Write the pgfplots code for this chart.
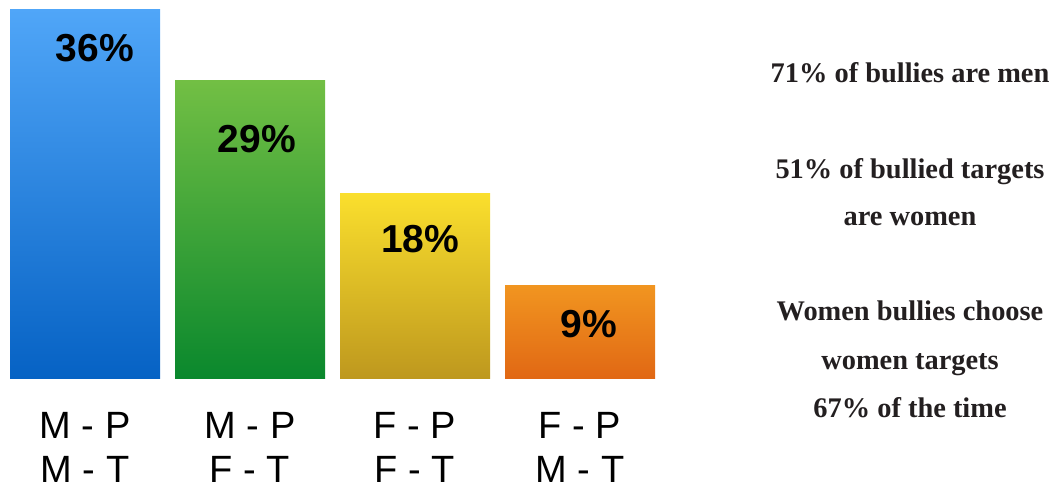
\documentclass[border=0pt]{standalone}
\usepackage{fontspec}
\setmainfont{Liberation Sans}
\newfontfamily\notefont{Liberation Serif}
\usepackage{pgfplots}
\pgfplotsset{compat=1.18}

\definecolor{blueTop}{RGB}{80,166,248}
\definecolor{blueBot}{RGB}{6,98,196}
\definecolor{greenTop}{RGB}{114,191,68}
\definecolor{greenBot}{RGB}{10,136,45}
\definecolor{yellowTop}{RGB}{250,223,45}
\definecolor{yellowBot}{RGB}{190,152,30}
\definecolor{orangeTop}{RGB}{241,149,32}
\definecolor{orangeBot}{RGB}{225,104,20}
\definecolor{noteText}{RGB}{35,31,32}

\begin{document}
\begin{tikzpicture}[x=1pt,y=1pt]
\path[use as bounding box] (0,0) rectangle (526,242);
\begin{axis}[
  at={(0pt,53pt)}, anchor=south west,
  scale only axis, width=333pt, height=184.5pt,
  xmin=-0.5152, xmax=3.521, ymin=0, ymax=36,
  axis line style={draw=none}, tick style={draw=none},
  ytick=\empty,
  xtick={0,1,2,3},
  xticklabels={{M - P\\M - T},{M - P\\F - T},{F - P\\F - T},{F - P\\M - T}},
  xticklabel style={align=center, inner sep=0pt, anchor=north,
    font=\fontsize{19}{21.8}\selectfont, yshift=-12.8pt},
  ybar, bar width=75pt, bar shift=0pt,
  point meta=y,
  /pgf/number format/assume math mode=true,
  nodes near coords={\pgfmathprintnumber{\pgfplotspointmeta}\%},
  every node near coord/.append style={font=\bfseries\fontsize{19.5}{20}\selectfont, anchor=center, text=black},
]
\addplot[draw=none, top color=blueTop, bottom color=blueBot,
  nodes near coords style={xshift=5pt, yshift=-19.5pt}] coordinates {(0,36)};
\addplot[draw=none, top color=greenTop, bottom color=greenBot,
  nodes near coords style={xshift=3.5pt, yshift=-29pt}] coordinates {(1,29)};
\addplot[draw=none, top color=yellowTop, bottom color=yellowBot,
  nodes near coords style={xshift=2.5pt, yshift=-23pt}] coordinates {(2,18)};
\addplot[draw=none, top color=orangeTop, bottom color=orangeBot,
  nodes near coords style={xshift=4.5pt, yshift=-19pt}] coordinates {(3,9)};
\end{axis}
\begin{scope}[every node/.style={anchor=base, inner sep=0pt, text=noteText, font=\notefont\bfseries\fontsize{14.2}{24}\selectfont}]
\node at (455,201) {71\% of bullies are men};
\node at (455,153) {51\% of bullied targets};
\node at (455,129.5) {are women};
\node at (455,82) {Women bullies choose};
\node at (455,57.5) {women targets};
\node at (455,33.5) {67\% of the time};
\end{scope}
\end{tikzpicture}
\end{document}
